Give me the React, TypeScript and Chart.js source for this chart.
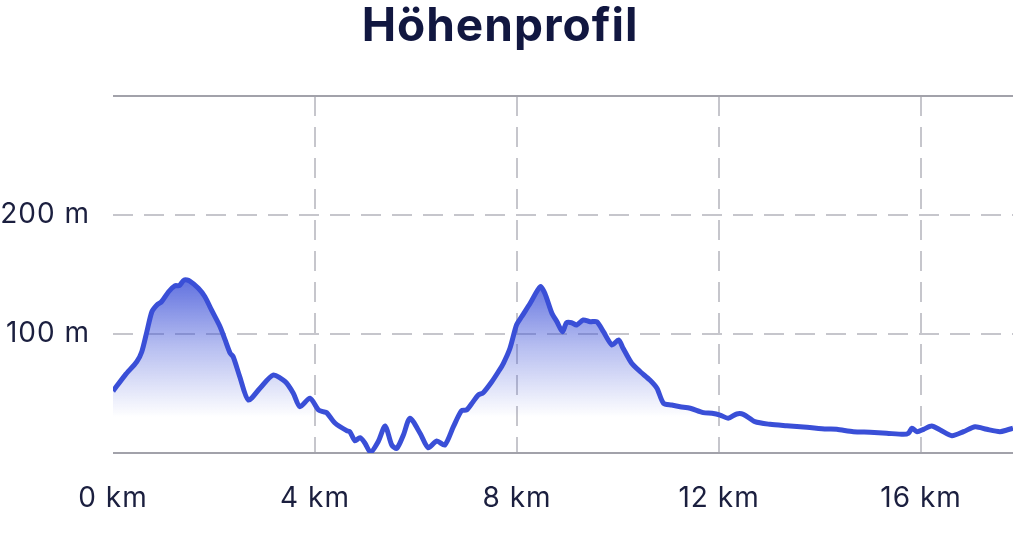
import React, { useEffect, useRef } from "react";
import { Chart, registerables } from "chart.js";

Chart.register(...registerables);

const chartTitle = "Höhenprofil";

const distanceKm = [
  0, 0.24, 0.47, 0.57, 0.67, 0.77, 0.87, 0.96, 1.1, 1.23,
  1.31, 1.41, 1.52, 1.69, 1.82, 1.95, 2.12, 2.22, 2.32, 2.38,
  2.51, 2.68, 2.91, 3.17, 3.41, 3.57, 3.7, 3.9, 4.07, 4.16,
  4.23, 4.4, 4.63, 4.69, 4.79, 4.89, 4.99, 5.1, 5.25, 5.39,
  5.52, 5.62, 5.75, 5.88, 6.08, 6.24, 6.41, 6.57, 6.74, 6.9,
  7.0, 7.13, 7.23, 7.33, 7.5, 7.63, 7.73, 7.86, 7.99, 8.09,
  8.26, 8.46, 8.55, 8.69, 8.79, 8.9, 8.98, 9.08, 9.18, 9.31,
  9.45, 9.58, 9.71, 9.88, 10.01, 10.1, 10.27, 10.44, 10.63, 10.77,
  10.9, 11.06, 11.23, 11.43, 11.69, 11.86, 12.02, 12.18, 12.35, 12.48,
  12.71, 13.01, 13.34, 13.74, 14.13, 14.33, 14.66, 14.99, 15.32, 15.65,
  15.75, 15.82, 15.92, 16.05, 16.21, 16.38, 16.61, 16.84, 17.07, 17.3,
  17.56, 17.7, 17.82,
];

const elevationM = [
  52, 65.5, 76.7, 85.1, 101.9, 118.7, 124.4, 127.1, 135.5, 140.6,
  140.6, 145.4, 144.5, 138.4, 131.3, 120.2, 106.1, 95.0, 83.8, 80.9,
  64.1, 44.5, 54.4, 65.5, 59.9, 50.2, 38.9, 46.0, 36.1, 34.7,
  33.9, 25.0, 18.7, 17.9, 10.3, 12.9, 8.2, 0.6, 9.5, 22.7,
  6.7, 3.9, 15.1, 29.2, 16.6, 4.5, 10.1, 6.7, 22.1, 35.5,
  36.1, 43.1, 48.7, 50.7, 59.9, 68.3, 75.4, 88.0, 107.6, 114.5,
  125.8, 139.7, 134.2, 117.4, 110.3, 101.9, 109.5, 109.5, 107.6, 111.8,
  110.3, 110.3, 101.9, 90.8, 95.0, 88.0, 75.4, 68.3, 61.3, 54.4,
  41.8, 40.3, 38.9, 37.6, 33.9, 33.4, 31.9, 29.2, 32.8, 32.5,
  26.3, 24.1, 22.9, 21.6, 20.2, 19.9, 17.9, 17.4, 16.6, 15.7,
  16.6, 20.8, 17.9, 19.9, 22.7, 19.3, 14.5, 17.9, 22.1, 19.9,
  17.9, 19.3, 20.8,
];

const xTickStep = 4;
const yTickValues = [100, 200];
const xUnit = "km";
const yUnit = "m";

const letterSpacingPlugin = {
  id: "letterSpacing",
  beforeUpdate(chart: any) {
    chart.ctx.letterSpacing = "1px";
  },
  beforeDraw(chart: any) {
    chart.ctx.letterSpacing = "1px";
  },
};

export default function App() {
  const canvasRef = useRef<HTMLCanvasElement | null>(null);

  useEffect(() => {
    const canvas = canvasRef.current;
    if (!canvas) return;
    document.body.style.overflow = "hidden";
    const points = distanceKm.map((x, i) => ({ x, y: elevationM[i] }));
    const solidGrid = "#a2a2aa";
    const dashGrid = "#c6c6cc";
    const chart = new Chart(canvas, {
      type: "line",
      data: {
        datasets: [
          {
            data: points,
            borderColor: "#3a4fd7",
            borderWidth: 5,
            pointRadius: 0,
            tension: 0.25,
            fill: "origin",
            backgroundColor: (ctx: any) => {
              const c = ctx.chart;
              if (!c.chartArea) return "rgba(70,90,220,0.3)";
              const yTop = c.scales.y.getPixelForValue(150);
              const yBot = c.scales.y.getPixelForValue(30);
              const g = c.ctx.createLinearGradient(0, yTop, 0, yBot);
              g.addColorStop(0, "rgba(62,82,216,0.85)");
              g.addColorStop(0.5, "rgba(62,82,216,0.38)");
              g.addColorStop(1, "rgba(62,82,216,0)");
              return g;
            },
          },
        ],
      },
      options: {
        animation: false,
        responsive: false,
        layout: { padding: { left: 0, right: 11, top: 0, bottom: 0 } },
        plugins: {
          legend: { display: false },
          tooltip: { enabled: false },
          title: {
            display: true,
            text: chartTitle,
            color: "#111740",
            font: { family: "Inter", size: 46, weight: "bold", lineHeight: 1.2 },
            padding: { top: 0, bottom: 40.8 },
          },
        },
        scales: {
          x: {
            type: "linear",
            min: 0,
            max: distanceKm[distanceKm.length - 1],
            afterFit: (scale: any) => {
              scale.height = 88;
            },
            border: { display: false, dash: [20, 11] },
            grid: {
              drawTicks: false,
              lineWidth: 2,
              color: (ctx: any) => (ctx.tick && ctx.tick.value === 0 ? "rgba(0,0,0,0)" : dashGrid),
            },
            ticks: {
              stepSize: xTickStep,
              includeBounds: false,
              padding: 29,
              color: "#1b1f3f",
              font: { family: "Inter", size: 28 },
              maxRotation: 0,
              callback: (v: any) => `${v} ${xUnit}`,
            },
          },
          y: {
            min: 0,
            max: 300,
            afterFit: (scale: any) => {
              scale.width = 126;
            },
            border: {
              display: false,
              dash: (ctx: any) =>
                ctx.tick && (ctx.tick.value === 0 || ctx.tick.value === 300) ? [] : [20, 11],
            },
            grid: {
              drawTicks: false,
              lineWidth: 2,
              color: (ctx: any) =>
                ctx.tick && (ctx.tick.value === 0 || ctx.tick.value === 300) ? solidGrid : dashGrid,
            },
            ticks: {
              stepSize: 100,
              padding: 23,
              color: "#1b1f3f",
              font: { family: "Inter", size: 28 },
              callback: (v: any) => (yTickValues.includes(v) ? `${v} ${yUnit}` : ""),
            },
          },
        },
      },
      plugins: [letterSpacingPlugin],
    });
    return () => chart.destroy();
  }, []);

  return (
    <div style={{ position: "absolute", left: -13, top: 0, width: 1037, height: 541, background: "#fff" }}>
      <canvas ref={canvasRef} width={1037} height={541} />
    </div>
  );
}
